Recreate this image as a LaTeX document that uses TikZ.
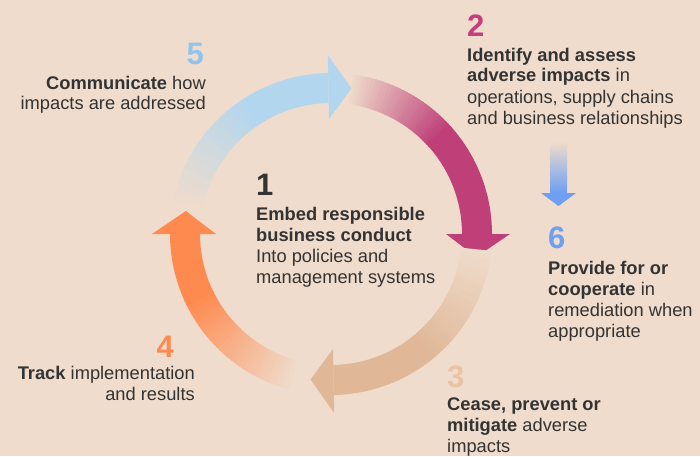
\documentclass[tikz,border=0pt]{standalone}
\usepackage{fontspec}
\setmainfont{Liberation Sans}
\usetikzlibrary{positioning}

\definecolor{bgpeach}{HTML}{EFDCCC}
\definecolor{darktext}{HTML}{333333}
\definecolor{cycblue}{HTML}{B3D6EF}
\definecolor{cycmagenta}{HTML}{BF4078}
\definecolor{cycsand}{HTML}{E0B897}
\definecolor{cycorange}{HTML}{FF8A4F}
\definecolor{numblue}{HTML}{8FC4EE}
\definecolor{nummagenta}{HTML}{C43F7B}
\definecolor{numsand}{HTML}{EAC3A2}
\definecolor{remblue}{HTML}{6E9FF2}

% ring radii
\newcommand{\rin}{131}
\newcommand{\rout}{161}
\newcommand{\rmid}{147}
\newcommand{\hin}{115}
\newcommand{\hout}{179}

% #1 colour, #2 tail angle, #3 end of fade, #4 head base angle
\newcommand{\ringarrow}[4]{%
  \foreach \i in {0,...,29}{
    \pgfmathsetmacro{\angA}{#2-(#2-#3)*\i/30}
    \pgfmathsetmacro{\angB}{#2-(#2-#3)*(\i+1.4)/30}
    \pgfmathtruncatemacro{\p}{(\i+1)*100/30}
    \fill[#1!\p!bgpeach] (\angA:\rin) arc (\angA:\angB:\rin) -- (\angB:\rout) arc (\angB:\angA:\rout) -- cycle;
  }
  \fill[#1] (#3:\rin) arc (#3:#4:\rin) -- (#4:\rout) arc (#4:#3:\rout) -- cycle;
  \fill[#1] (#4:\hin) -- (#4-9:\rmid) -- (#4:\hout) -- cycle; % head
}

\begin{document}
\begin{tikzpicture}[x=1pt,y=1pt,
    txt/.style={font=\fontsize{18.3}{21}\selectfont, text=darktext, inner sep=0pt},
    num/.style={font=\fontsize{31}{31}\selectfont\bfseries, inner sep=0pt}]
  \fill[bgpeach] (0,0) rectangle (700,456);
  \useasboundingbox (0,0) rectangle (700,456);

  \begin{scope}[shift={(331,222)}]
    \ringarrow{cycorange}{255}{205}{180} % track
    \ringarrow{cycblue}{168}{122}{91}    % communicate
    \ringarrow{cycmagenta}{82}{42}{0}    % identify
    \ringarrow{cycsand}{-6}{-52}{-89}    % cease
  \end{scope}

  % remediation arrow
  \shade[top color=bgpeach, bottom color=remblue] (550,314) rectangle (567,263);
  \fill[remblue] (541,263) -- (576,263) -- (558.5,250) -- cycle;

  % centre (base = last line)
  \node[num, text=darktext, anchor=base west] (n1) at (256,261) {1};
  \node[txt, align=left, anchor=base west] (t1) at (256,173)
    {\textbf{Embed responsible}\\\textbf{business conduct}\\Into policies and\\management systems};

  \node[num, text=nummagenta, anchor=base west] (n2) at (467,419) {2};
  \node[txt, align=left, anchor=base west] (t2) at (467,332)
    {\textbf{Identify and assess}\\\textbf{adverse impacts} in\\operations, supply chains\\and business relationships};

  \node[num, text=numsand, anchor=base west] (n3) at (447,69) {3};
  \node[txt, align=left, anchor=base west] (t3) at (447,4)
    {\textbf{Cease, prevent or}\\\textbf{mitigate} adverse\\impacts};

  \node[num, text=cycorange, anchor=base east] (n4) at (174,99) {4};
  \node[txt, align=right, anchor=base east] (t4) at (195,56)
    {\textbf{Track} implementation\\and results};

  \node[num, text=numblue, anchor=base east] (n5) at (204,391) {5};
  \node[txt, align=right, anchor=base east] (t5) at (206,346)
    {\textbf{Communicate} how\\impacts are addressed};

  \node[num, text=remblue, anchor=base west] (n6) at (548,208) {6};
  \node[txt, align=left, anchor=base west] (t6) at (548,119)
    {\textbf{Provide for or}\\\textbf{cooperate} in\\remediation when\\appropriate};
\end{tikzpicture}
\end{document}
